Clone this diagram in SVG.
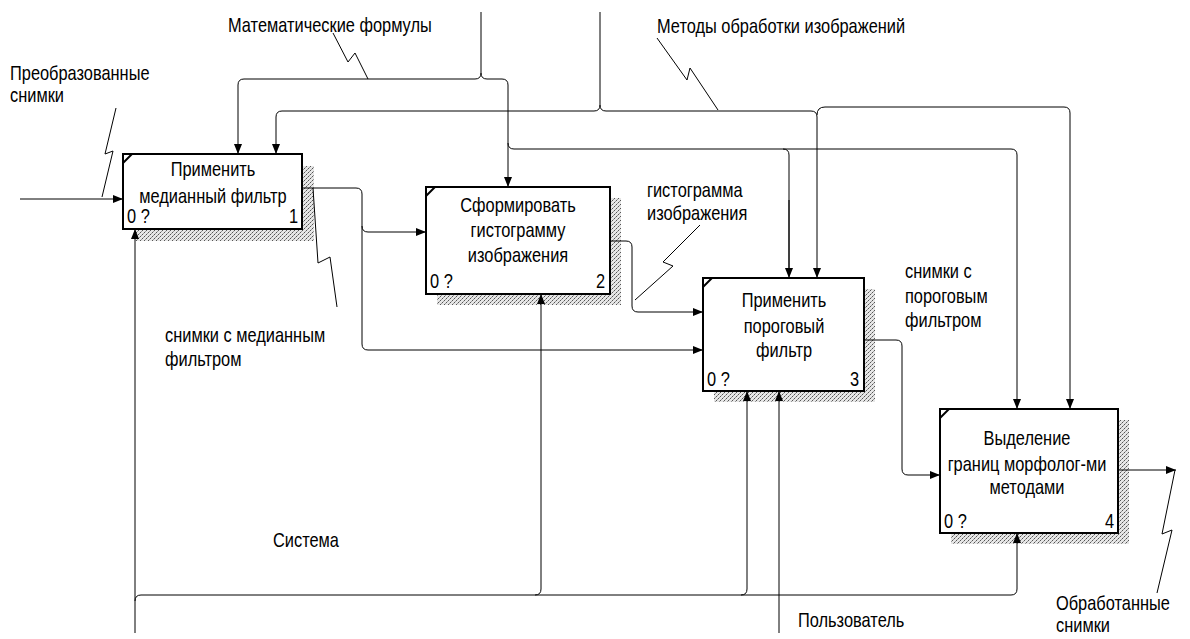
<svg xmlns="http://www.w3.org/2000/svg" width="1190" height="639" viewBox="0 0 1190 639">
<style>
.t{font-family:"Liberation Sans",Arial,sans-serif;font-size:20px;fill:#000}
.box{fill:#fff;stroke:#000;stroke-width:2}
.sh{fill:url(#hatch)}
.ln{fill:none;stroke:#000;stroke-width:1}
.arr{marker-end:url(#ah)}
.sq{fill:none;stroke:#000;stroke-width:1}
.tri{stroke:#000;stroke-width:2}
</style>
<defs>
<marker id="ah" viewBox="0 0 10 8" refX="10" refY="4" markerWidth="10" markerHeight="8" orient="auto" markerUnits="userSpaceOnUse"><path d="M0,0 L10,4 L0,8 z" fill="#000"/></marker>
<pattern id="hatch" width="4" height="4" patternUnits="userSpaceOnUse"><rect width="4" height="4" fill="#e6e6e6"/><rect x="0" y="0" width="1" height="1" fill="#555"/><rect x="2" y="2" width="1" height="1" fill="#555"/><rect x="1" y="3" width="1" height="1" fill="#999"/><rect x="3" y="1" width="1" height="1" fill="#999"/></pattern>
</defs>
<rect width="1190" height="639" fill="#fff"/>

<g id="node1">
<rect class="sh" x="135" y="166" width="179" height="75"/>
<rect class="box" x="123" y="154" width="179" height="75"/>
<line class="tri" x1="123" y1="163" x2="132" y2="154"/>
<text class="t" text-anchor="middle" transform="translate(213,176) scale(0.82,1)">Применить</text>
<text class="t" text-anchor="middle" transform="translate(213,203) scale(0.82,1)">медианный фильтр</text>
<text class="t" transform="translate(127,223) scale(0.82,1)">0 ?</text>
<text class="t" text-anchor="end" transform="translate(298,223) scale(0.82,1)">1</text>
</g>

<g id="node2">
<rect class="sh" x="437" y="198" width="184" height="107"/>
<rect class="box" x="426" y="187" width="184" height="107"/>
<line class="tri" x1="426" y1="196" x2="435" y2="187"/>
<text class="t" text-anchor="middle" transform="translate(518,212) scale(0.82,1)">Сформировать</text>
<text class="t" text-anchor="middle" transform="translate(518,237) scale(0.82,1)">гистограмму</text>
<text class="t" text-anchor="middle" transform="translate(518,262) scale(0.82,1)">изображения</text>
<text class="t" transform="translate(430,288) scale(0.82,1)">0 ?</text>
<text class="t" text-anchor="end" transform="translate(605,288) scale(0.82,1)">2</text>
</g>

<g id="node3">
<rect class="sh" x="714" y="289" width="161" height="113"/>
<rect class="box" x="703" y="278" width="161" height="113"/>
<line class="tri" x1="703" y1="287" x2="712" y2="278"/>
<text class="t" text-anchor="middle" transform="translate(784,307) scale(0.82,1)">Применить</text>
<text class="t" text-anchor="middle" transform="translate(784,333) scale(0.82,1)">пороговый</text>
<text class="t" text-anchor="middle" transform="translate(784,357) scale(0.82,1)">фильтр</text>
<text class="t" transform="translate(707,386) scale(0.82,1)">0 ?</text>
<text class="t" text-anchor="end" transform="translate(859,386) scale(0.82,1)">3</text>
</g>

<g id="node4">
<rect class="sh" x="951" y="420" width="178" height="124"/>
<rect class="box" x="940" y="409" width="178" height="124"/>
<line class="tri" x1="940" y1="418" x2="949" y2="409"/>
<text class="t" text-anchor="middle" transform="translate(1027,445) scale(0.82,1)">Выделение</text>
<text class="t" text-anchor="middle" transform="translate(1027,471) scale(0.82,1)">границ морфолог-ми</text>
<text class="t" text-anchor="middle" transform="translate(1027,494) scale(0.82,1)">методами</text>
<text class="t" transform="translate(944,528) scale(0.82,1)">0 ?</text>
<text class="t" text-anchor="end" transform="translate(1114,528) scale(0.82,1)">4</text>
</g>

<g id="labels">
<text class="t" transform="translate(10,80) scale(0.82,1)">Преобразованные</text>
<text class="t" transform="translate(10,102) scale(0.82,1)">снимки</text>
<text class="t" transform="translate(228,32) scale(0.82,1)">Математические формулы</text>
<text class="t" transform="translate(657,33) scale(0.82,1)">Методы обработки изображений</text>
<text class="t" transform="translate(647,197) scale(0.82,1)">гистограмма</text>
<text class="t" transform="translate(647,220) scale(0.82,1)">изображения</text>
<text class="t" transform="translate(165,342) scale(0.82,1)">снимки с медианным</text>
<text class="t" transform="translate(165,366) scale(0.82,1)">фильтром</text>
<text class="t" transform="translate(905,278) scale(0.82,1)">снимки с</text>
<text class="t" transform="translate(905,303) scale(0.82,1)">пороговым</text>
<text class="t" transform="translate(905,327) scale(0.82,1)">фильтром</text>
<text class="t" transform="translate(273,547) scale(0.82,1)">Система</text>
<text class="t" transform="translate(798,627) scale(0.82,1)">Пользователь</text>
<text class="t" transform="translate(1056,610) scale(0.82,1)">Обработанные</text>
<text class="t" transform="translate(1056,632) scale(0.82,1)">снимки</text>
</g>

<g id="connectors">
<path class="ln arr" d="M20,199 H123"/>
<path class="sq" d="M116,108 L105,154 L113,151 L102,197"/>
<path class="ln arr" d="M481,12 V73 Q481,79 475,79 H244 Q238,79 238,85 V154"/>
<path class="ln arr" d="M481,73 Q481,79 487,79 H502 Q508,79 508,85 V187"/>
<path class="ln" d="M508,143 Q508,149 514,149 H783 Q789,149 789,155 V270"/>
<path class="ln arr" d="M789,200 V278"/>
<path class="ln arr" d="M783,149 H1011 Q1017,149 1017,155 V409"/>
<path class="sq" d="M333,33 L348,62 L355,53 L368,79"/>
<path class="ln arr" d="M600,12 V105 Q600,111 594,111 H282 Q276,111 276,117 V154"/>
<path class="ln arr" d="M600,105 Q600,111 606,111 H811 Q817,111 817,117 V278"/>
<path class="ln arr" d="M817,115 Q817,107 825,107 H1064 Q1070,107 1070,113 V409"/>
<path class="sq" d="M657,38 L687,80 L690,68 L718,110"/>
<path class="ln arr" d="M302,188 H356 Q362,188 362,194 V226 Q362,232 368,232 H426"/>
<path class="ln arr" d="M362,226 V344 Q362,350 368,350 H703"/>
<path class="sq" d="M313,188 L318,263 L330,257 L337,307"/>
<path class="ln arr" d="M610,241 H626 Q632,241 632,247 V306 Q632,312 638,312 H703"/>
<path class="sq" d="M700,225 L663,262 L673,266 L635,300"/>
<path class="ln arr" d="M864,340 H896 Q902,340 902,346 V469 Q902,475 908,475 H940"/>
<path class="ln arr" d="M1118,470 H1176"/>
<path class="sq" d="M1157,593 L1172,530 L1162,534 L1175,470"/>
<path class="ln arr" d="M135,633 V229"/>
<path class="ln arr" d="M135,601 Q135,595 141,595 H1011 Q1017,595 1017,589 V533"/>
<path class="ln arr" d="M535,595 Q541,595 541,589 V294"/>
<path class="ln arr" d="M741,595 Q747,595 747,589 V391"/>
<path class="ln arr" d="M779,633 V391"/>
</g>
</svg>
